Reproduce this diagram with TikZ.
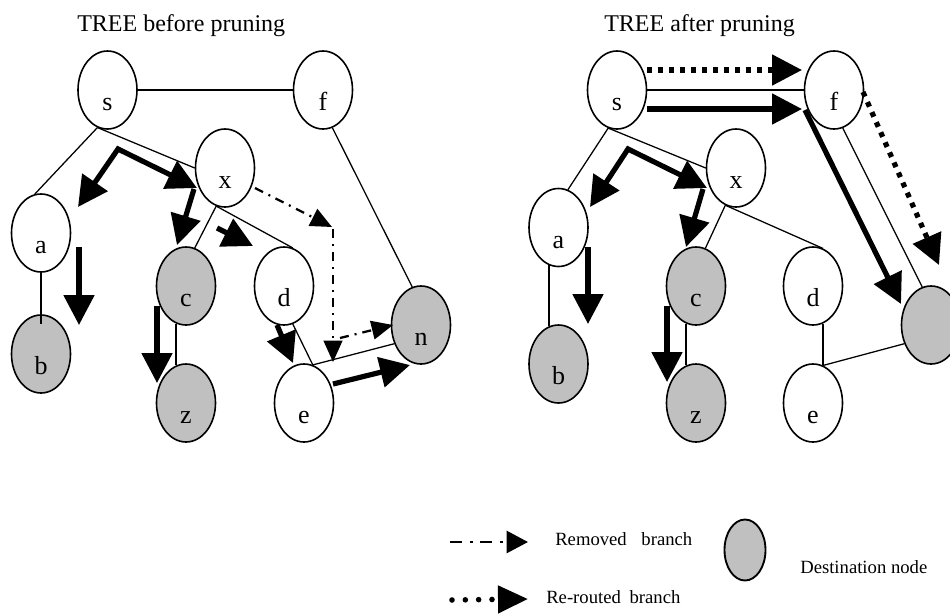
\documentclass[tikz,border=0pt]{standalone}
\usepackage{fontspec}
\setmainfont{Liberation Serif}
\usetikzlibrary{shapes.geometric,arrows.meta,calc}
\definecolor{destgray}{RGB}{192,192,192}
\begin{document}
\begin{tikzpicture}[x=0.75pt,y=-0.75pt,
  nd/.style={ellipse, draw, line width=1.2pt, fill=white, minimum width=44.25pt, minimum height=58.5pt,
     inner sep=0pt, text height=31pt, text depth=0pt, font=\fontsize{19.5}{22}\selectfont},
  dest/.style={nd, fill=destgray},
  link/.style={line width=0.95pt},
  bigarrow/.style={line width=3.9pt, -{Triangle[length=22.5pt,width=22.5pt]}},
  remarrow/.style={line width=1.7pt, dash pattern=on 6.75pt off 4.5pt on 1.5pt off 4.5pt,
     -{Triangle[length=16pt,width=14pt]}},
  rerarrow/.style={line width=3.9pt, dash pattern=on 3.75pt off 4.5pt, line cap=butt,
     -{Triangle[length=22.5pt,width=22.5pt]}},
  title/.style={anchor=base west, inner sep=0pt, font=\fontsize{18}{21}\selectfont},
  legtext/.style={anchor=base west, inner sep=0pt, font=\fontsize{14}{16}\selectfont}
]
\useasboundingbox (0,0) rectangle (950,615);
\clip (0,0) rectangle (950,615);

% titles
\node[title] (t1) at (77,31) {TREE before pruning};
\node[title] (t2) at (604,31) {TREE after pruning};

% ---------- left tree ----------
\node[nd]   (s1) at (107.5,90) {s};
\node[nd]   (f1) at (323,90) {f};
\node[nd]   (x1) at (225,168) {x};
\node[nd]   (a1) at (41,233) {a};
\node[dest] (b1) at (41,354) {b};
\node[dest] (c1) at (186,286) {c};
\node[dest] (z1) at (186,403) {z};
\node[nd]   (d1) at (284,286) {d};
\node[nd]   (e1) at (304,403) {e};
\node[dest] (n1) at (421,325) {n};

\draw[link] (s1.east) -- (f1.west);
\draw[link] (s1.255) -- (a1.99);
\draw[link] (s1.255) -- (x1.west);
\draw[link] (x1.257) -- (c1.77);
\draw[link] (x1.257) -- (d1.77);
\draw[link] (f1.284) -- (n1.103);
\draw[link] (a1.south) -- ($(b1.north)+(0,10)$);
\draw[link] (c1.255) -- (z1.105);
\draw[link] (d1.283) -- (e1.77);
\draw[link] (e1.77) -- (n1.215);

\coordinate (L1a) at (78,207);
\coordinate (L1c) at (118,149);
\coordinate (L1b) at (197,188);
\coordinate (L2s) at (194,189);
\coordinate (L2e) at (177,245);
\coordinate (L3s) at (217,228);
\coordinate (L3e) at (253,246);
\coordinate (L4s) at (79,247);
\coordinate (L4e) at (79,325);
\coordinate (L5s) at (157,306);
\coordinate (L5e) at (157,383);
\coordinate (L6s) at (277,325);
\coordinate (L6e) at (293,363);
\coordinate (L7s) at (333,384);
\coordinate (L7e) at (410,365);
\draw[bigarrow, {Triangle[length=22.5pt,width=22.5pt]}-{Triangle[length=22.5pt,width=22.5pt]}]
  (L1a) -- (L1c) -- (L1b);
\draw[bigarrow] (L2s) -- (L2e);
\draw[bigarrow] (L3s) -- (L3e);
\draw[bigarrow] (L4s) -- (L4e);
\draw[bigarrow] (L5s) -- (L5e);
\draw[bigarrow] (L6s) -- (L6e);
\draw[bigarrow] (L7s) -- (L7e);

\coordinate (D1s) at (255,188);
\coordinate (D1e) at (332,227);
\coordinate (D2s) at (333,229);
\coordinate (D2e) at (333,362);
\coordinate (D3s) at (340,338);
\coordinate (D3e) at (393,325);
\draw[remarrow] (D1s) -- (D1e);
\draw[remarrow] (D2s) -- (D2e);
\draw[remarrow] (D3s) -- (D3e);

% ---------- right tree ----------
\node[nd]   (s2) at (617,90) {s};
\node[nd]   (f2) at (834,90) {f};
\node[nd]   (x2) at (736,168) {x};
\node[nd]   (a2) at (558.5,227.5) {a};
\node[dest] (b2) at (558.5,364) {b};
\node[dest] (c2) at (696,286) {c};
\node[dest] (z2) at (696,403) {z};
\node[nd]   (d2) at (813,286) {d};
\node[nd]   (e2) at (813,403) {e};
\node[dest] (n2) at (931,325) {};

\draw[link] (s2.east) -- (f2.west);
\draw[link] (s2.257) -- (a2.76);
\draw[link] (s2.257) -- (x2.west);
\draw[link] (x2.254) -- (c2.76);
\draw[link] (x2.254) -- (d2.75);
\draw[link] (f2.283) -- (n2.103);
\draw[link] (a2.256) -- (b2.104);
\draw[link] (c2.255) -- (z2.105);
\draw[link] (d2.285) -- (e2.75);
\draw[link] (e2.75) -- (n2.215);

\coordinate (R1a) at (590,207);
\coordinate (R1c) at (628,149);
\coordinate (R1b) at (707,188);
\coordinate (R2s) at (703,189);
\coordinate (R2e) at (686,247);
\coordinate (R3s) at (588,247);
\coordinate (R3e) at (588,324);
\coordinate (R4s) at (667,306);
\coordinate (R4e) at (667,382);
\coordinate (R5s) at (647,109);
\coordinate (R5e) at (802,109);
\coordinate (R6s) at (805,110);
\coordinate (R6e) at (901,304);
\draw[bigarrow, {Triangle[length=22.5pt,width=22.5pt]}-{Triangle[length=22.5pt,width=22.5pt]}]
  (R1a) -- (R1c) -- (R1b);
\draw[bigarrow] (R2s) -- (R2e);
\draw[bigarrow] (R3s) -- (R3e);
\draw[bigarrow] (R4s) -- (R4e);
\draw[bigarrow] (R5s) -- (R5e);
\draw[bigarrow] (R6s) -- (R6e);

\coordinate (P1s) at (647,70);
\coordinate (P1e) at (802,70);
\coordinate (P2s) at (863,92);
\coordinate (P2e) at (939,265);
\draw[rerarrow] (P1s) -- (P1e);
\draw[rerarrow] (P2s) -- (P2e);

% ---------- legend ----------
\coordinate (G1s) at (450,542);
\coordinate (G1e) at (528,542);
\draw[line width=1.9pt, dash pattern=on 9pt off 6pt on 2.25pt off 5.25pt,
      -{Triangle[length=16pt,width=16.5pt]}] (G1s) -- (G1e);
\node[legtext] (g1) at (555,545) {Removed\hspace{7.5pt} branch};

\coordinate (G2s) at (452,600);
\coordinate (G2e) at (528,599);
\draw[line width=4.2pt, line cap=round, dash pattern=on 0pt off 10pt,
      -{Triangle[length=22.5pt,width=20pt]}] (G2s) -- (G2e);
\node[legtext] (g2) at (546,603) {Re-routed\hspace{3pt} branch};

\node[ellipse, draw, line width=1.4pt, fill=destgray, minimum width=30.75pt,
      minimum height=45.75pt, inner sep=0pt] (g3) at (745,550) {};
\node[legtext] (g4) at (800,573) {Destination node};
\end{tikzpicture}
\end{document}
